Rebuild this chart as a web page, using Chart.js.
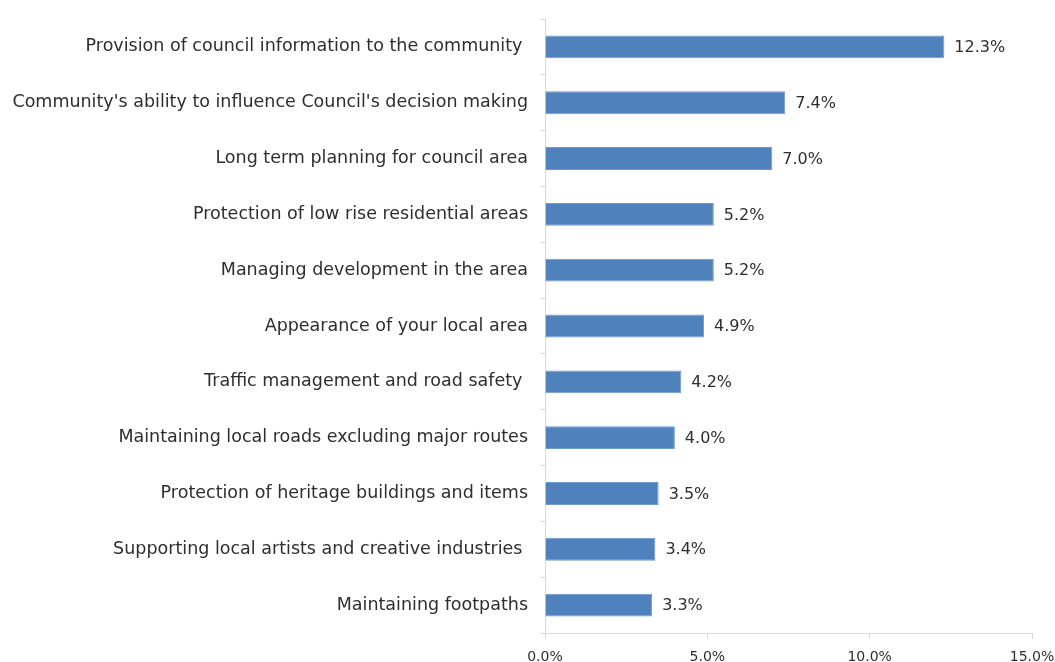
<!DOCTYPE html>
<html>
<head>
<meta charset="utf-8">
<script src="https://cdn.jsdelivr.net/npm/chart.js@4/dist/chart.umd.min.js"></script>
<style>
  html, body { margin: 0; padding: 0; background: #ffffff; }
  #wrap { width: 1055px; height: 662px; position: relative; }
</style>
</head>
<body>
<div id="wrap"><canvas id="chart" width="1055" height="662"></canvas></div>
<script>
// Top community priorities, share of responses (%)
const categories = [
  "Provision of council information to the community ",
  "Community's ability to influence Council's decision making",
  "Long term planning for council area",
  "Protection of low rise residential areas",
  "Managing development in the area",
  "Appearance of your local area",
  "Traffic management and road safety ",
  "Maintaining local roads excluding major routes",
  "Protection of heritage buildings and items",
  "Supporting local artists and creative industries ",
  "Maintaining footpaths"
];
const shares = [12.3, 7.4, 7.0, 5.2, 5.2, 4.9, 4.2, 4.0, 3.5, 3.4, 3.3];
const axisTicks = [0, 5, 10, 15];

const FONT = "'DejaVu Sans', sans-serif";
const TEXT = '#2e2e2e';

// Writes each bar's value just past its end
const valueLabels = {
  id: 'valueLabels',
  afterDatasetsDraw(chart) {
    const ctx = chart.ctx;
    const meta = chart.getDatasetMeta(0);
    ctx.save();
    ctx.font = '16px ' + FONT;
    ctx.fillStyle = TEXT;
    ctx.textAlign = 'left';
    ctx.textBaseline = 'middle';
    meta.data.forEach((bar, i) => {
      ctx.fillText(shares[i].toFixed(1) + '%', bar.x + 10, bar.y + 1);
    });
    ctx.restore();
  }
};

new Chart(document.getElementById('chart'), {
  type: 'bar',
  data: {
    labels: categories,
    datasets: [{
      data: shares,
      backgroundColor: '#4F81BD',
      borderColor: '#6f98cc',
      borderWidth: 1,
      categoryPercentage: 1,
      barPercentage: 0.41
    }]
  },
  options: {
    indexAxis: 'y',
    responsive: false,
    animation: false,
    layout: { padding: { top: 19, right: 23, left: 0, bottom: 0 } },
    plugins: { legend: { display: false }, tooltip: { enabled: false } },
    scales: {
      x: {
        min: 0, max: 15,
        afterBuildTicks(axis) { axis.ticks = axisTicks.map(v => ({ value: v })); },
        afterFit(axis) { axis.height = 29; axis.paddingLeft = 0; axis.paddingRight = 0; },
        grid: { drawOnChartArea: false, color: '#d9d9d9', tickLength: 6, offset: false },
        border: { color: '#d9d9d9', width: 1 },
        ticks: {
          font: { family: FONT, size: 14 },
          color: TEXT,
          padding: 10,
          maxRotation: 0,
          callback: v => Number(v).toFixed(1) + '%'
        }
      },
      y: {
        afterFit(axis) { axis.width = 545; axis.paddingTop = 0; axis.paddingBottom = 0; },
        grid: { drawOnChartArea: false, color: '#d9d9d9', tickLength: 5, offset: true },
        border: { color: '#d9d9d9', width: 1 },
        ticks: {
          font: { family: FONT, size: 17.5 },
          color: TEXT,
          padding: 12,
          autoSkip: false
        }
      }
    }
  },
  plugins: [valueLabels]
});
</script>
</body>
</html>
